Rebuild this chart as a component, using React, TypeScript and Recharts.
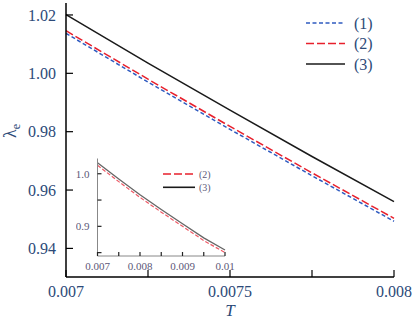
import { LineChart, Line, XAxis, YAxis } from "recharts"

// main panel: lambda_e vs T, three curves
const tMain = [0.007, 0.00725, 0.0075, 0.00775, 0.008]
const lambda1 = [1.0137, 0.997, 0.9808, 0.9649, 0.9493]
const lambda2 = [1.0146, 0.998, 0.9818, 0.9659, 0.9503]
const lambda3 = [1.0201, 1.0035, 0.9874, 0.9715, 0.956]
const seriesNames = ["(1)", "(2)", "(3)"]

const mainXTicks = [0.007, 0.00725, 0.0075, 0.00775, 0.008]
const mainXLabels = ["0.007", "", "0.0075", "", "0.008"]
const mainYTicks = [0.94, 0.96, 0.98, 1.0, 1.02]
const mainYLabels = ["0.94", "0.96", "0.98", "1.00", "1.02"]

// inset: wider T range, curves (2) and (3)
const tInset = [0.007, 0.0075, 0.008, 0.0085, 0.009, 0.0095, 0.01]
const inset2 = [1.016, 0.985, 0.955, 0.927, 0.9, 0.873, 0.85]
const inset3 = [1.021, 0.99, 0.96, 0.932, 0.905, 0.878, 0.855]
const insetNames = ["(2)", "(3)"]

const insetXTicks = [0.007, 0.0075, 0.008, 0.0085, 0.009, 0.0095, 0.01]
const insetXLabels = ["0.007", "", "0.008", "", "0.009", "", "0.01"]
const insetYTicks = [0.85, 0.9, 0.95, 1.0]
const insetYLabels = ["", "0.9", "", "1.0"]

const mainData = tMain.map((t, i) => ({ t, s1: lambda1[i], s2: lambda2[i], s3: lambda3[i] }))
const insetData = tInset.map((t, i) => ({ t, s2: inset2[i], s3: inset3[i] }))

const FONT = "Liberation Serif, Times New Roman, serif"
const TEXT = "#2c4a78"
const INSET_TEXT = "#5c5878"

const styles = [
  { color: "#2f5bc0", dash: "4 2.5" },
  { color: "#e8202c", dash: "8 3" },
  { color: "#1a1a1a", dash: undefined },
]

const labelFor = (ticks: number[], labels: string[], v: number) => {
  const i = ticks.findIndex((t) => Math.abs(t - v) < 1e-9)
  return i >= 0 ? labels[i] : ""
}

function bottomTick(ticks: number[], labels: string[], len: number, dy: number, size: number, color: string, tickColor: string) {
  return (props: any) => {
    const { x, y, payload } = props
    const label = labelFor(ticks, labels, payload.value)
    return (
      <g>
        <line x1={x} y1={y} x2={x} y2={y - len} stroke={tickColor} strokeWidth={1.2} />
        {label && (
          <text x={x} y={y + dy} textAnchor="middle" fontFamily={FONT} fontSize={size} fill={color}>
            {label}
          </text>
        )}
      </g>
    )
  }
}

function leftTick(ticks: number[], labels: string[], len: number, dx: number, size: number, color: string, tickColor: string) {
  return (props: any) => {
    const { x, y, payload } = props
    const label = labelFor(ticks, labels, payload.value)
    return (
      <g>
        <line x1={x} y1={y} x2={x + len} y2={y} stroke={tickColor} strokeWidth={1.2} />
        {label && (
          <text x={x - dx} y={y + size * 0.35} textAnchor="end" fontFamily={FONT} fontSize={size} fill={color}>
            {label}
          </text>
        )}
      </g>
    )
  }
}

const topTick = (len: number, tickColor: string) => (props: any) =>
  <line x1={props.x} y1={props.y} x2={props.x} y2={props.y + len} stroke={tickColor} strokeWidth={1.2} />

const rightTick = (len: number, tickColor: string) => (props: any) =>
  <line x1={props.x} y1={props.y} x2={props.x - len} y2={props.y} stroke={tickColor} strokeWidth={1.2} />

function MainLegend() {
  return (
    <svg width={100} height={70} style={{ position: "absolute", left: 300, top: 10 }}>
      {seriesNames.map((name, i) => (
        <g key={name}>
          <line x1={6} x2={45} y1={13 + i * 20.5} y2={13 + i * 20.5} stroke={styles[i].color} strokeWidth={1.6} strokeDasharray={styles[i].dash} />
          <text x={54} y={13 + i * 20.5 + 5.5} fontFamily={FONT} fontSize={16} fill={TEXT}>
            {name}
          </text>
        </g>
      ))}
    </svg>
  )
}

function InsetLegend() {
  return (
    <svg width={70} height={30} style={{ position: "absolute", left: 161, top: 168 }}>
      {insetNames.map((name, i) => (
        <g key={name}>
          <line x1={2} x2={34} y1={6 + i * 13.3} y2={6 + i * 13.3} stroke={styles[i + 1].color} strokeWidth={1.6} strokeDasharray={i === 0 ? "8 3" : undefined} />
          <text x={38} y={6 + i * 13.3 + 3.5} fontFamily={FONT} fontSize={10} fill={INSET_TEXT}>
            {name}
          </text>
        </g>
      ))}
    </svg>
  )
}

const axisLine = { stroke: "#000", strokeWidth: 1.5 }
const insetAxisLine = { stroke: "#888", strokeWidth: 1 }

export default function App() {
  return (
    <div style={{ position: "absolute", left: 0, top: 0, width: 415, height: 320, background: "#fff" }}>
      <LineChart width={415} height={320} data={mainData} margin={{ top: 3, right: 21, left: 0, bottom: 0 }}>
        <XAxis
          dataKey="t"
          type="number"
          domain={[0.007, 0.008]}
          ticks={mainXTicks}
          interval={0}
          height={43}
          tickSize={0}
          tickMargin={0}
          tickLine={false}
          axisLine={axisLine}
          tick={bottomTick(mainXTicks, mainXLabels, 7, 20, 16, TEXT, "#000")}
          label={{
            content: (p: any) => (
              <text x={p.viewBox.x + p.viewBox.width / 2} y={p.viewBox.y + 39} textAnchor="middle" fontFamily={FONT} fontStyle="italic" fontSize={17} fill={TEXT}>
                T
              </text>
            ),
          }}
        />
        <XAxis xAxisId="top" orientation="top" dataKey="t" type="number" domain={[0.007, 0.008]} ticks={mainXTicks} interval={0} height={0} tickSize={0} tickMargin={0} tickLine={false} axisLine={axisLine} tick={topTick(7, "#000")} />
        <YAxis
          type="number"
          domain={[0.9302, 1.0241]}
          ticks={mainYTicks}
          interval={0}
          width={66}
          tickSize={0}
          tickMargin={0}
          tickLine={false}
          axisLine={axisLine}
          allowDataOverflow
          tick={leftTick(mainYTicks, mainYLabels, 7, 10, 16, TEXT, "#000")}
          label={{
            content: () => (
              <text x={16} y={131} transform="rotate(-90, 16, 131)" textAnchor="middle" fontFamily={FONT} fontSize={18} fill={TEXT}>
                λ<tspan fontSize={12} dy={4}>e</tspan>
              </text>
            ),
          }}
        />
        <YAxis yAxisId="right" orientation="right" type="number" domain={[0.9302, 1.0241]} ticks={mainYTicks} interval={0} width={0} tickSize={0} tickMargin={0} tickLine={false} axisLine={axisLine} tick={rightTick(7, "#000")} />
        <Line dataKey="s1" name={seriesNames[0]} stroke={styles[0].color} strokeWidth={1.5} strokeDasharray={styles[0].dash} dot={false} isAnimationActive={false} />
        <Line dataKey="s2" name={seriesNames[1]} stroke={styles[1].color} strokeWidth={1.5} strokeDasharray={styles[1].dash} dot={false} isAnimationActive={false} />
        <Line dataKey="s3" name={seriesNames[2]} stroke={styles[2].color} strokeWidth={1.5} dot={false} isAnimationActive={false} />
      </LineChart>
      <MainLegend />

      <div style={{ position: "absolute", left: 76, top: 155, width: 166, height: 120 }}>
        <LineChart width={166} height={120} data={insetData} margin={{ top: 3.5, right: 17, left: 0, bottom: 0 }}>
          <XAxis dataKey="t" type="number" domain={[0.007, 0.01]} ticks={insetXTicks} interval={0} height={19} tickSize={0} tickMargin={0} tickLine={false} axisLine={insetAxisLine} tick={bottomTick(insetXTicks, insetXLabels, 4, 14, 11, INSET_TEXT, "#222")} />
          <XAxis xAxisId="top" orientation="top" dataKey="t" type="number" domain={[0.007, 0.01]} ticks={insetXTicks} interval={0} height={0} tickSize={0} tickMargin={0} tickLine={false} axisLine={insetAxisLine} tick={topTick(4, "#222")} />
          <YAxis type="number" domain={[0.8436, 1.029]} ticks={insetYTicks} interval={0} width={21.5} tickSize={0} tickMargin={0} tickLine={false} axisLine={insetAxisLine} allowDataOverflow tick={leftTick(insetYTicks, insetYLabels, 4, 8, 11, INSET_TEXT, "#222")} />
          <YAxis yAxisId="right" orientation="right" type="number" domain={[0.8436, 1.029]} ticks={insetYTicks} interval={0} width={0} tickSize={0} tickMargin={0} tickLine={false} axisLine={insetAxisLine} tick={rightTick(4, "#222")} />
          <Line dataKey="s2" name={insetNames[0]} stroke="#ee5a66" strokeWidth={1.2} strokeDasharray="4 2" dot={false} isAnimationActive={false} />
          <Line dataKey="s3" name={insetNames[1]} stroke="#666" strokeWidth={1.3} dot={false} isAnimationActive={false} />
        </LineChart>
      </div>
      <InsetLegend />
    </div>
  )
}
